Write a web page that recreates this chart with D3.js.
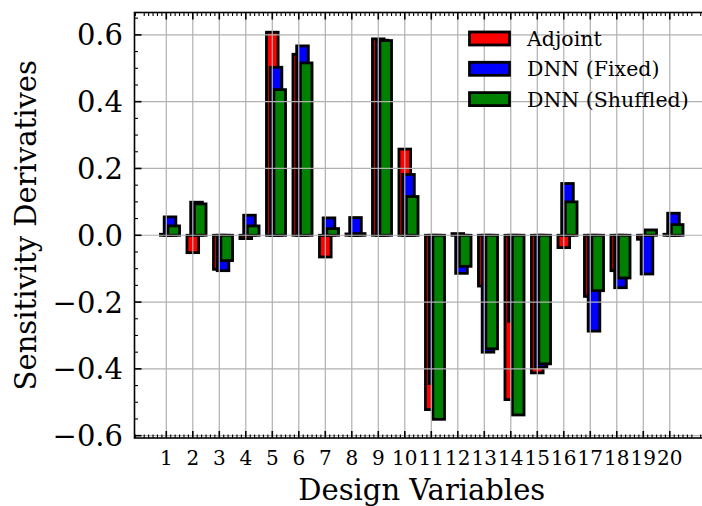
<!DOCTYPE html>
<html>
<head>
<meta charset="utf-8">
<script src="https://cdn.jsdelivr.net/npm/d3@7"></script>
<style>
	body { margin: 0; background: #fff; }
	svg { display: block; }
	text { font-family: "DejaVu Serif", serif; fill: #000; }
</style>
</head>
<body>
<div id="graph"></div>
<script>

// design variable numbers
var variables = d3.range(1, 21);

// sensitivity derivatives per design variable
var adjoint  = [0.003, -0.052, -0.102, -0.010, 0.608, 0.542, -0.065, 0.004, 0.588, 0.258,
                -0.522, 0.005, -0.152, -0.492, -0.412, -0.037, -0.183, -0.106, -0.012, 0.003];
var dnnFixed = [0.055, 0.099, -0.106, 0.060, 0.503, 0.567, 0.052, 0.053, 0.584, 0.182,
                -0.444, -0.114, -0.350, -0.258, -0.395, 0.155, -0.287, -0.157, -0.116, 0.066];
var dnnShuffled = [0.028, 0.094, -0.076, 0.028, 0.436, 0.516, 0.020, 0.005, 0.583, 0.116,
                -0.551, -0.093, -0.340, -0.538, -0.385, 0.100, -0.166, -0.128, 0.016, 0.032];

var seriesNames = ["Adjoint", "DNN (Fixed)", "DNN (Shuffled)"];
var seriesColors = ["#ff0000", "#0000ff", "#008000"];

var yTicks = [-0.6, -0.4, -0.2, 0.0, 0.2, 0.4, 0.6];

var width = 702, height = 506;
var barWidth = 0.44, barShift = 0.14;

var svg = d3.select("#graph").append("svg")
	.attr("width", width)
	.attr("height", height);

// axes box, right edge runs past the figure
var x = d3.scaleLinear().domain([-0.2, 21.48]).range([134.5, 709]);
var y = d3.scaleLinear().domain([-0.607, 0.667]).range([438, 12.5]);

var plot = svg.append("g");

// bars, one series after the other so the later ones sit on top
var series = [adjoint, dnnFixed, dnnShuffled];
series.forEach(function(vals, s) {
	plot.append("g")
		.selectAll("rect")
		.data(vals)
		.enter().append("rect")
		.attr("x", function(d, i) { return x(variables[i] + s * barShift - barWidth / 2); })
		.attr("width", x(barWidth) - x(0))
		.attr("y", function(d) { return y(Math.max(0, d)); })
		.attr("height", function(d) { return Math.abs(y(d) - y(0)); })
		.attr("fill", seriesColors[s])
		.attr("stroke", "#000")
		.attr("stroke-width", 2.8);
});

// grid over the bars
var grid = svg.append("g")
	.attr("stroke", "#b0b0b0")
	.attr("stroke-width", 1.2);
grid.selectAll("line.gx")
	.data(variables)
	.enter().append("line")
	.attr("x1", function(d) { return x(d); })
	.attr("x2", function(d) { return x(d); })
	.attr("y1", y.range()[0])
	.attr("y2", y.range()[1]);
grid.selectAll("line.gy")
	.data(yTicks)
	.enter().append("line")
	.attr("x1", x.range()[0])
	.attr("x2", x.range()[1])
	.attr("y1", function(d) { return y(d); })
	.attr("y2", function(d) { return y(d); });

// inward ticks on all four sides
var x0 = x.range()[0], x1 = x.range()[1], y0 = y.range()[0], y1 = y.range()[1];
var majorLen = 7, minorLen = 3.5;

var xMinor = d3.range(-1, 21.5, 1 / 6).filter(function(d) {
	return x(d) > x0 && x(d) < x1 && Math.abs(d - Math.round(d)) > 0.01;
});
var yMinor = d3.range(-0.6, 0.66, 0.05).filter(function(d) {
	return Math.abs(d / 0.2 - Math.round(d / 0.2)) > 0.01;
});

var ticks = svg.append("g").attr("stroke", "#000");

function vTicks(data, len, w) {
	[y0, y1].forEach(function(base) {
		var dir = base === y0 ? -1 : 1;
		ticks.append("g").selectAll("line")
			.data(data)
			.enter().append("line")
			.attr("stroke-width", w)
			.attr("x1", function(d) { return x(d); })
			.attr("x2", function(d) { return x(d); })
			.attr("y1", base)
			.attr("y2", base + dir * len);
	});
}
function hTicks(data, len, w) {
	[x0, x1].forEach(function(base) {
		var dir = base === x0 ? 1 : -1;
		ticks.append("g").selectAll("line")
			.data(data)
			.enter().append("line")
			.attr("stroke-width", w)
			.attr("y1", function(d) { return y(d); })
			.attr("y2", function(d) { return y(d); })
			.attr("x1", base)
			.attr("x2", base + dir * len);
	});
}
vTicks(variables, majorLen, 1.6);
vTicks(xMinor, minorLen, 1.1);
hTicks(yTicks, majorLen, 1.6);
hTicks(yMinor, minorLen, 1.1);

// frame
svg.append("rect")
	.attr("x", x0)
	.attr("y", y1)
	.attr("width", x1 - x0)
	.attr("height", y0 - y1)
	.attr("fill", "none")
	.attr("stroke", "#000")
	.attr("stroke-width", 1.6);

// tick labels
var fmt = function(d) { return d3.format(".1f")(d).replace("-", "\u2212"); };

svg.append("g").selectAll("text")
	.data(yTicks)
	.enter().append("text")
	.attr("x", 123)
	.attr("y", function(d) { return y(d); })
	.attr("dy", "0.36em")
	.attr("text-anchor", "end")
	.attr("font-size", "29px")
	.text(fmt);

svg.append("g").selectAll("text")
	.data(variables)
	.enter().append("text")
	.attr("x", function(d) { return x(d); })
	.attr("y", 465)
	.attr("text-anchor", "middle")
	.attr("font-size", "20px")
	.text(function(d) { return d; });

// axis labels
svg.append("text")
	.attr("x", (x0 + x1) / 2)
	.attr("y", 500)
	.attr("text-anchor", "middle")
	.attr("font-size", "29px")
	.text("Design Variables");

svg.append("text")
	.attr("transform", "translate(36," + ((y0 + y1) / 2) + ") rotate(-90)")
	.attr("text-anchor", "middle")
	.attr("font-size", "29px")
	.text("Sensitivity Derivatives");

// legend
var legend = svg.append("g")
	.selectAll("g")
	.data(seriesNames)
	.enter().append("g")
	.attr("transform", function(d, i) { return "translate(0," + (i * 30.3) + ")"; });

legend.append("rect")
	.attr("x", 469.5)
	.attr("y", 32)
	.attr("width", 40)
	.attr("height", 13)
	.attr("fill", function(d, i) { return seriesColors[i]; })
	.attr("stroke", "#000")
	.attr("stroke-width", 2.8);

legend.append("text")
	.attr("x", 527)
	.attr("y", 46)
	.attr("font-size", "20.5px")
	.text(function(d) { return d; });

</script>
</body>
</html>
